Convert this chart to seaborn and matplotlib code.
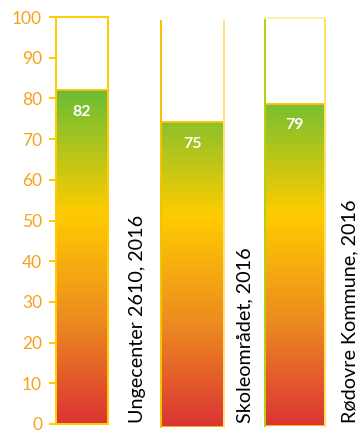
import numpy as np
import pandas as pd
import matplotlib
matplotlib.use("Agg")
import matplotlib.pyplot as plt
from matplotlib.colors import LinearSegmentedColormap
import seaborn as sns

# Survey scores (0-100) per unit
categories = ["Ungecenter 2610, 2016", "Skoleområdet, 2016", "Rødovre Kommune, 2016"]
values = [82, 75, 79]
y_ticks = [0, 10, 20, 30, 40, 50, 60, 70, 80, 90, 100]

sns.set_theme(style="white")
plt.rcParams["font.family"] = ["Lato", "DejaVu Sans"]

W, H = 358, 432
fig = plt.figure(figsize=(W / 100, H / 100), dpi=100)
fig.patch.set_facecolor("white")

# red -> orange -> yellow -> green, along the value scale
score_cmap = LinearSegmentedColormap.from_list(
    "score",
    [(0.0, "#DC3434"), (0.25, "#EC8A20"), (0.52, "#FFCC00"),
     (0.82, "#6ABE36"), (1.0, "#3FAE3A")],
)
grad = np.linspace(0, 100, 400).reshape(-1, 1)

# panel boxes in pixels: left, right, top (=100), bottom (=0)
panels = [(56, 108, 17, 424), (161, 224, 21, 427), (265, 325, 18, 426)]
label_x = [137, 245, 350]

for i, (cat, val) in enumerate(zip(categories, values)):
    l, r, t, b = panels[i]
    ax = fig.add_axes([l / W, (H - b) / H, (r - l) / W, (b - t) / H])
    ax.set_facecolor("white")
    df = pd.DataFrame({"unit": [cat], "score": [val]})
    sns.barplot(data=df, x="unit", y="score", ax=ax, width=1.0,
                color="#FFCC00", saturation=1)
    patch = ax.patches[0]
    x0 = patch.get_x()
    x1 = x0 + patch.get_width()
    im = ax.imshow(grad, cmap=score_cmap, vmin=0, vmax=100, origin="lower",
                   extent=(x0, x1, 0, 100), aspect="auto", zorder=1)
    im.set_clip_path(patch)
    patch.set_facecolor("none")
    patch.set_edgecolor("#FFC000")
    patch.set_linewidth(1.3)
    patch.set_zorder(2)
    ax.set_xlim(x0, x1)
    ax.set_ylim(0, 100)
    ax.set_xlabel("")
    ax.set_ylabel("")
    ax.set_xticks([])

    ax.text((x0 + x1) / 2, val - 5.3, f"{val}", ha="center", va="center",
            color="white", fontsize=11.5, fontweight="bold", zorder=3)

    for s in ax.spines.values():
        s.set_linewidth(1.4)
    if i == 0:
        for s in ax.spines.values():
            s.set_color("#FFCC00")
        ax.set_yticks(y_ticks)
        ax.tick_params(axis="y", left=True, length=5, width=1.4,
                       color="#FFCC00", labelcolor="#F7A11C",
                       labelsize=12.5, pad=5)
    else:
        ax.set_yticks([])
        ax.spines["bottom"].set_visible(False)
        if i == 1:
            ax.spines["top"].set_visible(False)
            ax.spines["left"].set_color("#F2C200")
            ax.spines["right"].set_color("#FFE47A")
        else:
            ax.spines["top"].set_color("#FFF0A8")
            ax.spines["left"].set_color("#B4CF10")
            ax.spines["right"].set_color("#FFE060")

    fig.text(label_x[i] / W, (H - 423) / H, cat, rotation=90,
             ha="center", va="bottom", fontsize=14.2, color="black")

fig.savefig("out.png", dpi=100, facecolor="white")
